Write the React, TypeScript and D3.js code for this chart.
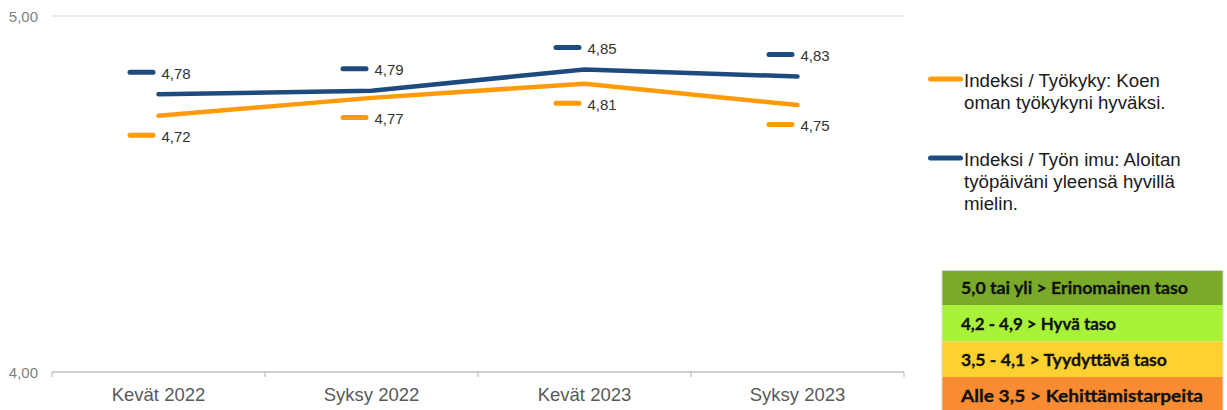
import React from "react";
import * as d3 from "d3";

const categories = ["Kevät 2022", "Syksy 2022", "Kevät 2023", "Syksy 2023"];
const tyokyky = [4.72, 4.77, 4.81, 4.75];
const tyonImu = [4.78, 4.79, 4.85, 4.83];
const yTicks = [4.0, 5.0];
const legendTyokyky = ["Indeksi / Työkyky: Koen", "oman työkykyni hyväksi."];
const legendImu = ["Indeksi / Työn imu: Aloitan", "työpäiväni yleensä hyvillä", "mielin."];
const levelTexts = [
  "5,0 tai yli > Erinomainen taso",
  "4,2 - 4,9 > Hyvä taso",
  "3,5 - 4,1 > Tyydyttävä taso",
  "Alle 3,5 > Kehittämistarpeita",
];
const levelTextWidths = [227, 155, 206, 242];
const levelColors = ["#79AA2A", "#A8F33A", "#FDD12F", "#F98C33"];

const W = 1227;
const H = 410;
const ORANGE = "#FF9A0A";
const NAVY = "#1F4A7E";

export default function App() {
  const x = d3.scaleBand<string>().domain(categories).range([52, 904]);
  const y = d3.scaleLinear().domain([4, 5]).range([372, 16]);
  const cx = (c: string) => (x(c) as number) + x.bandwidth() / 2;
  const fmt = (v: number) => v.toFixed(2).replace(".", ",");
  const line = d3
    .line<number>()
    .x((_, i) => cx(categories[i]))
    .y((v) => y(v));

  const series = [
    { values: tyokyky, color: ORANGE, offset: 19.5 },
    { values: tyonImu, color: NAVY, offset: -22 },
  ];

  const edges = [...categories.map((c) => x(c) as number), 904];
  const rowEdges = [270.5, 305, 341.5, 377, 413];

  return (
    <svg
      width={W}
      height={H}
      style={{ position: "absolute", left: 0, top: 0, background: "#fff" }}
      fontFamily="'Liberation Sans', Arial, sans-serif"
    >
      {/* gridline at 5,00 */}
      <line x1={52} x2={904} y1={y(5)} y2={y(5)} stroke="#d9d9d9" strokeWidth={1.2} />
      {/* x axis */}
      <line x1={52} x2={904} y1={y(4)} y2={y(4)} stroke="#bfbfbf" strokeWidth={1.3} />
      {edges.map((e, i) => (
        <line key={i} x1={e} x2={e} y1={y(4)} y2={y(4) + 5} stroke="#bfbfbf" strokeWidth={1.2} />
      ))}
      {yTicks.map((t) => (
        <text key={t} x={38} y={y(t) + 5.5} textAnchor="end" fontSize={15} fill="#7f7f7f">
          {fmt(t)}
        </text>
      ))}
      {categories.map((c) => (
        <text key={c} x={cx(c)} y={401} textAnchor="middle" fontSize={18.5} fill="#595959">
          {c}
        </text>
      ))}
      {series.map((s, si) => (
        <path
          key={si}
          d={line(s.values) || ""}
          fill="none"
          stroke={s.color}
          strokeWidth={4.5}
          strokeLinecap="round"
          strokeLinejoin="round"
        />
      ))}
      {series.map((s, si) =>
        s.values.map((v, i) => {
          const px = cx(categories[i]);
          const py = y(v) + s.offset;
          return (
            <g key={`${si}-${i}`}>
              <line
                x1={px - 28.5}
                x2={px - 5.5}
                y1={py}
                y2={py}
                stroke={s.color}
                strokeWidth={5}
                strokeLinecap="round"
              />
              <text x={px + 3} y={py + 6.5} fontSize={15} fill="#333">
                {fmt(v)}
              </text>
            </g>
          );
        })
      )}
      {/* legend */}
      {[
        { lines: legendTyokyky, color: ORANGE, ky: 79, by: 87 },
        { lines: legendImu, color: NAVY, ky: 158, by: 165.5 },
      ].map((l, li) => (
        <g key={li}>
          <line x1={930.5} x2={960.5} y1={l.ky} y2={l.ky} stroke={l.color} strokeWidth={5} strokeLinecap="round" />
          {l.lines.map((t, ti) => (
            <text key={ti} x={964} y={l.by + ti * 22} fontSize={18.7} fill="#1a1a1a">
              {t}
            </text>
          ))}
        </g>
      ))}
      {/* level table */}
      {levelTexts.map((t, i) => (
        <g key={i}>
          <rect
            x={942}
            y={rowEdges[i]}
            width={281}
            height={rowEdges[i + 1] - rowEdges[i]}
            fill={levelColors[i]}
          />
          <text
            x={961}
            y={(rowEdges[i] + rowEdges[i + 1]) / 2 + 6.5}
            fontSize={17.5}
            fontWeight={700}
            fontFamily="Lato, 'Open Sans', sans-serif"
            fill="#111"
            stroke="#111"
            strokeWidth={0.3}
            textLength={levelTextWidths[i]}
            lengthAdjust="spacingAndGlyphs"
          >
            {t}
          </text>
        </g>
      ))}
      <rect x={942} y={270.5} width={281} height={142} fill="none" stroke="#d9d9d9" strokeWidth={1} />
    </svg>
  );
}
